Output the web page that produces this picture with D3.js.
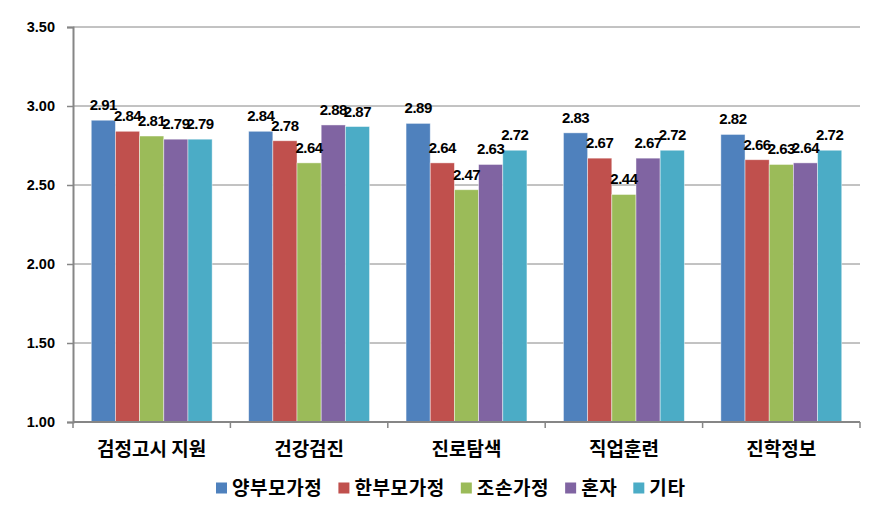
<!DOCTYPE html>
<html><head><meta charset="utf-8">
<script src="https://cdn.jsdelivr.net/npm/d3@7"></script>
<style>body{margin:0;background:#fff}svg{display:block}</style>
</head><body>
<svg id="chart" width="889" height="523"></svg>
<script>
const categories = ["검정고시 지원", "건강검진", "진로탐색", "직업훈련", "진학정보"];
const seriesNames = ["양부모가정", "한부모가정", "조손가정", "혼자", "기타"];
const colors = ["#4F81BD", "#C0504D", "#9BBB59", "#8064A2", "#4BACC6"];
const s양부모가정 = [2.91, 2.84, 2.89, 2.83, 2.82];
const s한부모가정 = [2.84, 2.78, 2.64, 2.67, 2.66];
const s조손가정 = [2.81, 2.64, 2.47, 2.44, 2.63];
const s혼자 = [2.79, 2.88, 2.63, 2.67, 2.64];
const s기타 = [2.79, 2.87, 2.72, 2.72, 2.72];
const yTicks = [1.00, 1.50, 2.00, 2.50, 3.00, 3.50];
const seriesValues = [s양부모가정, s한부모가정, s조손가정, s혼자, s기타];

(function() {
const svg = d3.select("#chart");
const pLeft = 73, pRight = 860, pTop = 27, pBottom = 422;
const numFont = "'Liberation Sans', Arial, sans-serif";
const krFont = "'Noto Sans CJK KR', sans-serif";

const x0 = d3.scaleBand().domain(categories).range([pLeft, pRight]).paddingInner(0.232).paddingOuter(0.116);
const x1 = d3.scaleBand().domain(seriesNames).range([0, x0.bandwidth()]);
const y = d3.scaleLinear().domain([1, 3.5]).range([pBottom, pTop]);

// gridlines
svg.append("g").selectAll("line").data(yTicks.slice(1)).join("line")
  .attr("x1", pLeft).attr("x2", pRight)
  .attr("y1", d => y(d)).attr("y2", d => y(d))
  .attr("stroke", "#868686").attr("stroke-width", 1);

// y axis
const yAxis = svg.append("g").attr("transform", `translate(${pLeft},0)`)
  .call(d3.axisLeft(y).tickValues(yTicks).tickFormat(d3.format(".2f")).tickSize(6).tickPadding(12));
yAxis.select(".domain").attr("stroke", "#868686").attr("stroke-width", 2);
yAxis.selectAll(".tick line").attr("stroke", "#868686").attr("stroke-width", 1.5);
yAxis.selectAll(".tick text").attr("font-family", numFont).attr("font-weight", "bold")
  .attr("font-size", 14.5).attr("fill", "#000");

// bars
const groups = svg.append("g").selectAll("g").data(categories).join("g")
  .attr("transform", c => `translate(${x0(c)},0)`);
groups.each(function(c, ci) {
  const g = d3.select(this);
  seriesNames.forEach((s, si) => {
    const v = seriesValues[si][ci];
    g.append("rect")
      .attr("x", x1(s)).attr("width", x1.bandwidth())
      .attr("y", y(v)).attr("height", y(1) - y(v))
      .attr("fill", colors[si]).attr("stroke", "rgba(255,255,255,0.55)").attr("stroke-width", 0.8);
  });
});

// x axis
const xAxis = svg.append("g").attr("transform", `translate(0,${pBottom})`)
  .call(d3.axisBottom(x0).tickSize(0).tickPadding(21));
xAxis.select(".domain").attr("stroke", "#868686").attr("stroke-width", 2).attr("d", `M${pLeft},0H${pRight}`);
xAxis.selectAll(".tick text").attr("font-family", krFont).attr("font-weight", "bold")
  .attr("font-size", 19).attr("fill", "#000");
// category boundary ticks
const bounds = d3.range(categories.length + 1).map(i => pLeft + i * x0.step());
svg.append("g").selectAll("line").data(bounds).join("line")
  .attr("x1", d => d).attr("x2", d => d).attr("y1", pBottom).attr("y2", pBottom + 6)
  .attr("stroke", "#868686").attr("stroke-width", 1.5);

// value labels
groups.each(function(c, ci) {
  const g = d3.select(this);
  seriesNames.forEach((s, si) => {
    const v = seriesValues[si][ci];
    g.append("text")
      .attr("x", x1(s) + x1.bandwidth() / 2).attr("y", y(v) - 10)
      .attr("text-anchor", "middle")
      .attr("font-family", numFont).attr("font-weight", "bold").attr("font-size", 15)
      .attr("letter-spacing", -0.5)
      .attr("fill", "#000").text(d3.format(".2f")(v));
  });
});

// legend
const legend = svg.append("g").attr("transform", "translate(216,488)");
let lx = 0;
seriesNames.forEach((s, i) => {
  const item = legend.append("g").attr("transform", `translate(${lx},0)`);
  item.append("rect").attr("x", 0).attr("y", -5.5).attr("width", 11).attr("height", 11).attr("fill", colors[i]);
  const t = item.append("text").attr("x", 16).attr("y", 7)
    .attr("font-family", krFont).attr("font-weight", "bold").attr("font-size", 19)
    .attr("letter-spacing", 0.6)
    .attr("fill", "#000").text(s);
  lx += 16 + t.node().getComputedTextLength() + 16;
});
})();
</script>
</body></html>
